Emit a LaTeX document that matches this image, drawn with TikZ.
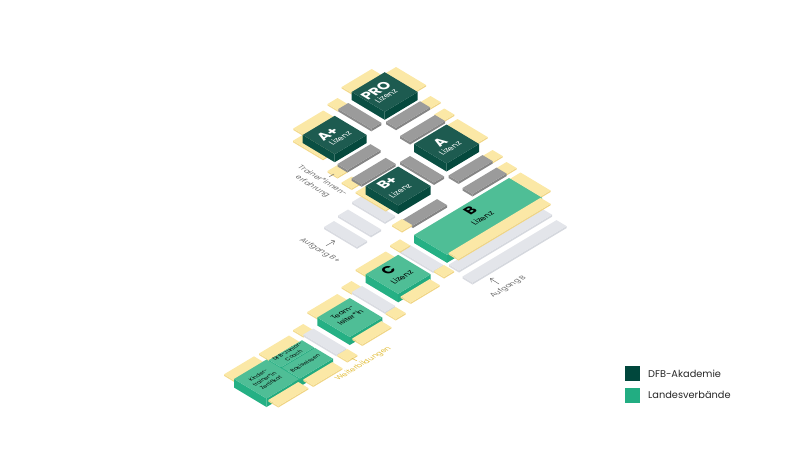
\documentclass[tikz,border=0pt]{standalone}
\usepackage{fontspec}
\setmainfont{Poppins}
\usetikzlibrary{arrows.meta}

% block colours: top, left side, right side
\definecolor{darktop}{HTML}{1D5B50}
\definecolor{darkleft}{HTML}{0A4F43}
\definecolor{darkright}{HTML}{05493D}
\definecolor{greentop}{HTML}{4FBE96}
\definecolor{greenleft}{HTML}{25B084}
\definecolor{greenright}{HTML}{22AB80}
\definecolor{yellowtop}{HTML}{FBE8A6}
\definecolor{yellowleft}{HTML}{F3DA8E}
\definecolor{yellowright}{HTML}{F0D585}
\definecolor{greytop}{HTML}{9B9B9B}
\definecolor{greyleft}{HTML}{8B8B8B}
\definecolor{greyright}{HTML}{858585}
\definecolor{palegreytop}{HTML}{E3E5EA}
\definecolor{palegreyleft}{HTML}{D9DBE1}
\definecolor{palegreyright}{HTML}{D5D8DE}
\definecolor{legenddark}{HTML}{00473C}
\definecolor{legendgreen}{HTML}{22AD82}
\definecolor{goldtext}{HTML}{E2BE3C}
\definecolor{notetext}{HTML}{6F6F6F}

% left corner x, left corner y, length up-right, length down-right, height, colour
\newcommand{\isoblock}[6]{%
  \fill[#6left] (#1,#2) -- ++(#4,0.6*#4) -- ++(0,#5) -- ++(-#4,-0.6*#4) -- cycle;
  \fill[#6right] (#1,#2) ++(#4,0.6*#4) -- ++(#3,-0.6*#3) -- ++(0,#5) -- ++(-#3,0.6*#3) -- cycle;
  \fill[#6top] (#1,#2) -- ++(#3,-0.6*#3) -- ++(#4,0.6*#4) -- ++(-#3,0.6*#3) -- cycle;
}

\tikzset{
  riseplane/.style={cm={0.857,0.515,-0.857,0.515,(0,0)}},
  fallplane/.style={cm={0.857,-0.515,0.857,0.515,(0,0)}},
  badge/.style={riseplane, font=\fontsize{14}{14}\selectfont\bfseries, inner sep=0pt},
  lizenz/.style={riseplane, font=\fontsize{8}{8}\selectfont, inner sep=0pt},
  blocktext/.style={riseplane, font=\fontsize{7}{9.5}\selectfont, align=center, inner sep=0pt, text=black},
  smalltext/.style={riseplane, font=\fontsize{5.4}{7.4}\selectfont, align=center, inner sep=0pt, text=black},
  note/.style={font=\fontsize{7.5}{11.5}\selectfont, inner sep=0pt, text=notetext},
  legend/.style={font=\fontsize{9.8}{10}\selectfont, anchor=west, inner sep=0pt, text=black!85}
}

\begin{document}
\begin{tikzpicture}[x=1pt, y=-1pt]
    \useasboundingbox (0,0) rectangle (800,450);

    % PRO
    \isoblock{341.7}{87}{30}{10}{1.5}{yellow}
    \isoblock{386}{73}{10}{30}{1.5}{yellow}
    \isoblock{351.7}{92}{33}{33}{8}{dark}
    \node [badge, text=white] (pro) at (376,90.7) {PRO};
    \node [lizenz, text=white] (prolizenz) at (386,96) {Lizenz};

    % Upper grey steps
    \isoblock{327.5}{104}{10}{10}{1.5}{yellow}
    \isoblock{338.3}{109}{10}{33}{2.5}{grey}
    \isoblock{420.5}{102}{10}{10}{1.5}{yellow}
    \isoblock{386}{121.7}{34}{10}{2.5}{grey}
    \isoblock{434.3}{114.5}{10}{10}{1.5}{yellow}
    \isoblock{400}{136}{35}{10}{2.5}{grey}

    % A+
    \isoblock{293.3}{128.5}{30}{10}{1.5}{yellow}
    \isoblock{293}{140.7}{10}{30}{1.5}{yellow}
    \isoblock{302.7}{135}{32}{32}{8}{dark}
    \node [badge, text=white] (aplus) at (327.7,134) {A+};
    \node [lizenz, text=white] (apluslizenz) at (340,138.3) {Lizenz};

    % A
    \isoblock{447.5}{125}{10}{30}{1.5}{yellow}
    \isoblock{414}{144}{32.5}{32.5}{8}{dark}
    \node [badge, text=white] (a) at (440,142.3) {A};
    \node [lizenz, text=white] (alizenz) at (450,148.3) {Lizenz};

    % Middle grey steps
    \isoblock{327.5}{171}{10}{10}{1.5}{yellow}
    \isoblock{337.5}{164}{33}{10}{2.5}{grey}
    \isoblock{341.7}{182.5}{10}{10}{1.5}{yellow}
    \isoblock{351.7}{178.3}{34}{10}{2.5}{grey}
    \isoblock{400}{162}{10}{34}{2.5}{grey}
    \isoblock{482.5}{156}{10}{10}{1.5}{yellow}
    \isoblock{448.5}{175.5}{34}{10}{2.5}{grey}
    \isoblock{496.5}{168}{10}{10}{1.5}{yellow}
    \isoblock{462.5}{188}{34}{10}{2.5}{grey}

    % B+
    \isoblock{352}{202}{10}{33}{2}{palegrey}
    \isoblock{338}{215.5}{10}{33}{2}{palegrey}
    \isoblock{324}{227}{10}{33}{2}{palegrey}
    \isoblock{355.7}{192}{10}{30}{1.5}{yellow}
    \isoblock{365.7}{186}{32.5}{32.5}{8.5}{dark}
    \node [badge, text=white] (bplus) at (387.3,182.7) {B+};
    \node [lizenz, text=white] (bpluslizenz) at (400,190.7) {Lizenz};
    \isoblock{403}{219.5}{34}{10}{2.5}{grey}
    \isoblock{392}{225}{10}{10}{1.5}{yellow}

    % B
    \isoblock{510.5}{178.5}{10}{30}{1.5}{yellow}
    \isoblock{462.5}{276.5}{94}{10}{2}{palegrey}
    \isoblock{449}{264.5}{93}{10}{2}{palegrey}
    \isoblock{414}{235}{95}{33}{8}{green}
    \isoblock{448.5}{253}{92}{10}{1.5}{yellow}
    \node [badge, text=black] (b) at (470,210.7) {B};
    \node [lizenz, text=black] (blizenz) at (482.3,218.3) {Lizenz};

    % C
    \isoblock{400}{251}{10}{33}{2}{palegrey}
    \isoblock{390}{245.3}{10}{10}{1.5}{yellow}
    \isoblock{434}{271}{10}{10}{1.5}{yellow}
    \isoblock{355.7}{269.5}{30}{10}{1.5}{yellow}
    \isoblock{365.7}{274.3}{32.5}{32.5}{8.5}{green}
    \isoblock{400.7}{296.5}{29}{10}{1.5}{yellow}
    \node [badge, text=black] (c) at (388.3,270) {C};
    \node [lizenz, text=black] (clizenz) at (401.7,277.3) {Lizenz};

    % Teamleiter
    \isoblock{341.5}{287}{10}{10}{1.5}{yellow}
    \isoblock{352}{292}{10}{33}{2}{palegrey}
    \isoblock{385.7}{313}{10}{10}{1.5}{yellow}
    \isoblock{307.3}{312}{30}{10}{1.5}{yellow}
    \isoblock{317.3}{317.5}{32.5}{32.5}{8}{green}
    \isoblock{352.3}{338.5}{29}{10}{1.5}{yellow}
    \node [blocktext] (team) at (346.5,315) {Team-\\leiter*in};

    % Weiterbildungen
    \isoblock{293.2}{330}{10}{10}{1.5}{yellow}
    \isoblock{303.3}{334.5}{10}{33}{2}{palegrey}
    \isoblock{337.3}{355}{10}{10}{1.5}{yellow}
    \isoblock{259}{353.5}{30}{10}{1.5}{yellow}
    \isoblock{224}{374.3}{30}{10}{1.5}{yellow}
    \isoblock{269}{360}{33}{12}{8}{green}
    \isoblock{282}{367.7}{33}{18}{8}{green}
    \isoblock{234}{379}{32.5}{32.5}{8.5}{green}
    \isoblock{268.3}{400}{30}{10}{1.5}{yellow}
    \isoblock{303.3}{379.5}{29}{10}{1.5}{yellow}
    \node [smalltext] (kinder) at (264.5,379) {Kinder-\\trainer*in\\Zertifikat};
    \node [smalltext] (junior) at (290.5,353.5) {DFB-Junior-\\Coach};
    \node [smalltext] (basis) at (305,363.3) {Basiswissen};

    % Notes
    \node [fallplane, note, align=center] (trainer) at (317.3,183.6) {Trainer*innen-\\erfahrung};
    \coordinate (trainerend) at (329.3,176.7);
    \coordinate (trainerstart) at (334,174);
    \draw [notetext, line width=0.5pt] (trainerstart) -- (trainerend);

    \node [fallplane, note] (aufgangbplus) at (319.7,250.7) {Aufgang B+};
    \coordinate (bplusstart) at (326,245.7);
    \coordinate (bplustip) at (335,240.7);
    \draw [-{Straight Barb[length=3pt, width=5pt]}, notetext, line width=0.5pt] (bplusstart) -- (bplustip);

    \node [riseplane, note] (aufgangb) at (508.3,286.7) {Aufgang B};
    \coordinate (bstart) at (499,284);
    \coordinate (btip) at (490,278.3);
    \draw [-{Straight Barb[length=3pt, width=5pt]}, notetext, line width=0.5pt] (bstart) -- (btip);

    \node [riseplane, note, text=goldtext] (weiter) at (363.3,364) {Weiterbildungen};
    \coordinate (weiterstart) at (351.7,358.3);
    \coordinate (weiterend) at (356.7,360.7);
    \draw [goldtext, line width=0.5pt] (weiterstart) -- (weiterend);

    % Legend
    \node [fill=legenddark, minimum size=15pt, inner sep=0pt] (keydark) at (632.5,373.5) {};
    \node [fill=legendgreen, minimum size=15pt, inner sep=0pt] (keygreen) at (632.5,395) {};
    \node [legend] (keydarktext) at (648,373.5) {DFB-Akademie};
    \node [legend] (keygreentext) at (648,395) {Landesverbände};
\end{tikzpicture}
\end{document}
